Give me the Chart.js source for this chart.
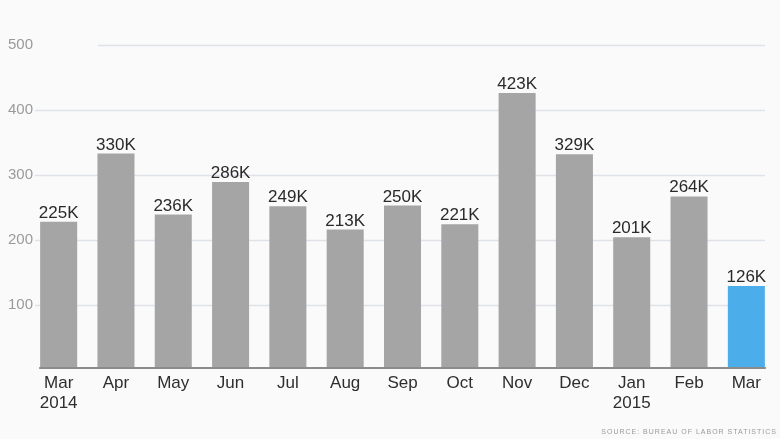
<!DOCTYPE html>
<html>
<head>
<meta charset="utf-8">
<script src="https://cdn.jsdelivr.net/npm/chart.js@4.4.1/dist/chart.umd.min.js"></script>
<style>
  html, body { margin: 0; padding: 0; background: #fafafa; }
  #wrap { position: relative; width: 780px; height: 439px; }
  #source { position: absolute; right: 3px; top: 428px; font: 7px "Liberation Sans", Arial, sans-serif; letter-spacing: 1.0px; color: #9a9a9a; white-space: nowrap; }
</style>
</head>
<body>
<div id="wrap">
  <canvas id="c" width="780" height="439"></canvas>
  <div id="source">SOURCE: BUREAU OF LABOR STATISTICS</div>
</div>
<script>
const categories = [['Mar','2014'],'Apr','May','Jun','Jul','Aug','Sep','Oct','Nov','Dec',['Jan','2015'],'Feb','Mar'];
const jobsThousands = [225,330,236,286,249,213,250,221,423,329,201,264,126];
const valueLabels = ['225K','330K','236K','286K','249K','213K','250K','221K','423K','329K','201K','264K','126K'];
const yTicks = [100,200,300,400,500];

const barColors = jobsThousands.map((v, i) => i === jobsThousands.length - 1 ? '#4baeea' : '#a5a5a5');
const FONT = '"Liberation Sans", Arial, sans-serif';

const decor = {
  id: 'decor',
  beforeDatasetsDraw(chart) {
    const ctx = chart.ctx;
    const y = chart.scales.y;
    ctx.save();
    ctx.strokeStyle = '#dfe2e8';
    ctx.lineWidth = 1.5;
    ctx.font = '15px ' + FONT;
    ctx.fillStyle = '#9a9a9a';
    ctx.textAlign = 'right';
    ctx.textBaseline = 'middle';
    yTicks.forEach(t => {
      const py = Math.round(y.getPixelForValue(t)) + 2.5;
      ctx.beginPath();
      ctx.moveTo(t === 500 ? 98 : 35, py);
      ctx.lineTo(765, py);
      ctx.stroke();
      ctx.fillText(String(t), 33, py - 1);
    });
    ctx.restore();
  },
  afterDatasetsDraw(chart) {
    const ctx = chart.ctx;
    const meta = chart.getDatasetMeta(0);
    const first = meta.data[0], last = meta.data[meta.data.length - 1];
    ctx.save();
    ctx.strokeStyle = '#8c8c8c';
    ctx.lineWidth = 2;
    ctx.beginPath();
    const by = chart.scales.y.getPixelForValue(0);
    ctx.moveTo(first.x - first.width / 2 - 1, by);
    ctx.lineTo(last.x + last.width / 2 + 1, by);
    ctx.stroke();
    ctx.font = '17px ' + FONT;
    ctx.fillStyle = '#2a2a2a';
    ctx.textAlign = 'center';
    ctx.textBaseline = 'alphabetic';
    meta.data.forEach((bar, i) => {
      ctx.fillText(valueLabels[i], bar.x, bar.y - 4);
    });
    ctx.restore();
  }
};

new Chart(document.getElementById('c'), {
  type: 'bar',
  data: {
    labels: categories,
    datasets: [{
      data: jobsThousands,
      backgroundColor: barColors,
      borderWidth: 0,
      categoryPercentage: 1.0,
      barPercentage: 0.646
    }]
  },
  options: {
    responsive: false,
    animation: false,
    devicePixelRatio: 1,
    layout: { padding: { top: 43, left: 30, right: 5, bottom: 0 } },
    plugins: { legend: { display: false }, tooltip: { enabled: false } },
    scales: {
      x: {
        grid: { display: false, drawTicks: false },
        border: { display: false },
        ticks: {
          color: '#2e2e2e',
          font: { family: FONT, size: 17, lineHeight: 1.13 },
          padding: 6,
          maxRotation: 0,
          autoSkip: false
        },
        afterFit(scale) { scale.height = 71; }
      },
      y: {
        display: false,
        min: 0,
        max: 500
      }
    }
  },
  plugins: [decor]
});
</script>
</body>
</html>
